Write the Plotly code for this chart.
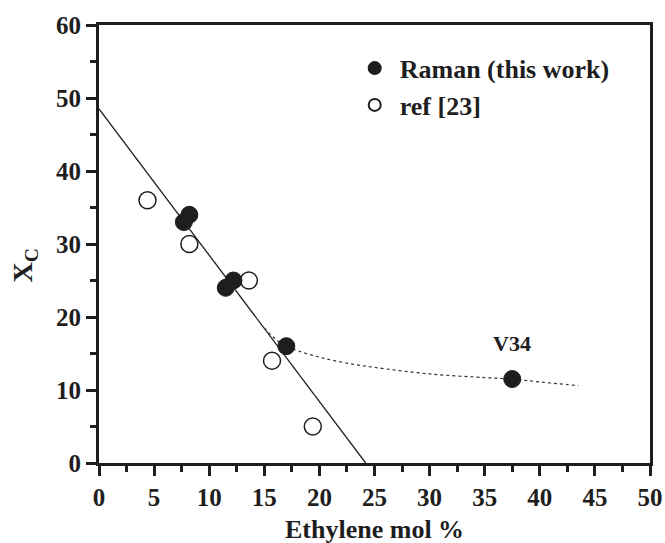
import plotly.graph_objects as go

# Raman (this work)
raman_x = [7.7, 8.2, 11.5, 12.2, 17.0, 37.5]
raman_y = [33.0, 34.0, 24.0, 25.0, 16.0, 11.5]

# ref [23]
ref_x = [4.4, 8.2, 13.6, 15.7, 19.4]
ref_y = [36.0, 30.0, 25.0, 14.0, 5.0]

# linear fit line
fit_x = [0.0, 24.2]
fit_y = [48.5, 0.0]

# dotted guide curve
curve_x = [15.0, 16.0, 17.0, 18.0, 20.0, 22.4, 25.0, 30.0, 35.0, 37.5, 40.0, 43.5]
curve_y = [18.5, 17.0, 16.0, 15.4, 14.5, 13.7, 13.1, 12.2, 11.7, 11.5, 11.1, 10.6]

FONT = "Liberation Serif"
INK = "#1e1e1e"

fig = go.Figure()
fig.add_trace(go.Scatter(x=fit_x, y=fit_y, mode="lines",
                         line=dict(color=INK, width=1.3), showlegend=False))
fig.add_trace(go.Scatter(x=curve_x, y=curve_y, mode="lines",
                         line=dict(color="#333333", width=1.2, dash="dot", shape="spline"),
                         showlegend=False))
fig.add_trace(go.Scatter(x=raman_x, y=raman_y, mode="markers", name="Raman (this work)",
                         marker=dict(symbol="circle", size=17, color=INK,
                                     line=dict(color=INK, width=1))))
fig.add_trace(go.Scatter(x=ref_x, y=ref_y, mode="markers", name="ref [23]",
                         marker=dict(symbol="circle-open", size=17, color=INK,
                                     line=dict(color=INK, width=1.5))))

fig.add_annotation(x=37.5, y=16.4, text="V34", showarrow=False,
                   font=dict(family=FONT, size=22, color=INK, weight="bold"))

# axis titles as annotations for exact placement
fig.add_annotation(xref="paper", yref="paper", x=0.5, y=-0.152, text="Ethylene mol %",
                   showarrow=False, xanchor="center", yanchor="middle",
                   font=dict(family=FONT, size=26, color=INK, weight="bold"))
fig.add_annotation(xref="paper", yref="paper", x=-0.135, y=0.45, text="X<sub>C</sub>",
                   showarrow=False, xanchor="center", yanchor="middle", textangle=-90,
                   font=dict(family=FONT, size=28, color=INK, weight="bold"))

axis_common = dict(showline=True, linecolor=INK, linewidth=3, mirror=True,
                   ticks="outside", tickcolor=INK, tickwidth=2.5, ticklen=10,
                   showgrid=False, zeroline=False, automargin=False,
                   tickfont=dict(family=FONT, size=25, color=INK, weight="bold"))

fig.update_xaxes(range=[0, 50], dtick=5, tick0=0,
                 minor=dict(ticks="outside", dtick=2.5, ticklen=6, tickwidth=2.5, tickcolor=INK),
                 **axis_common)
fig.update_yaxes(range=[0, 60], dtick=10, tick0=0,
                 minor=dict(ticks="outside", dtick=5, ticklen=6, tickwidth=2.5, tickcolor=INK),
                 **axis_common)

fig.update_layout(
    width=665, height=543,
    margin=dict(l=99, r=15, t=25, b=80),
    plot_bgcolor="white", paper_bgcolor="white",
    legend=dict(x=0.455, y=0.955, xanchor="left", yanchor="top",
                bgcolor="rgba(0,0,0,0)", itemwidth=40,
                font=dict(family=FONT, size=26, color=INK, weight="bold"),
                itemsizing="constant"),
)

fig.write_html("out.html", config={"displayModeBar": False},
               post_script="document.body.style.margin='0';")
